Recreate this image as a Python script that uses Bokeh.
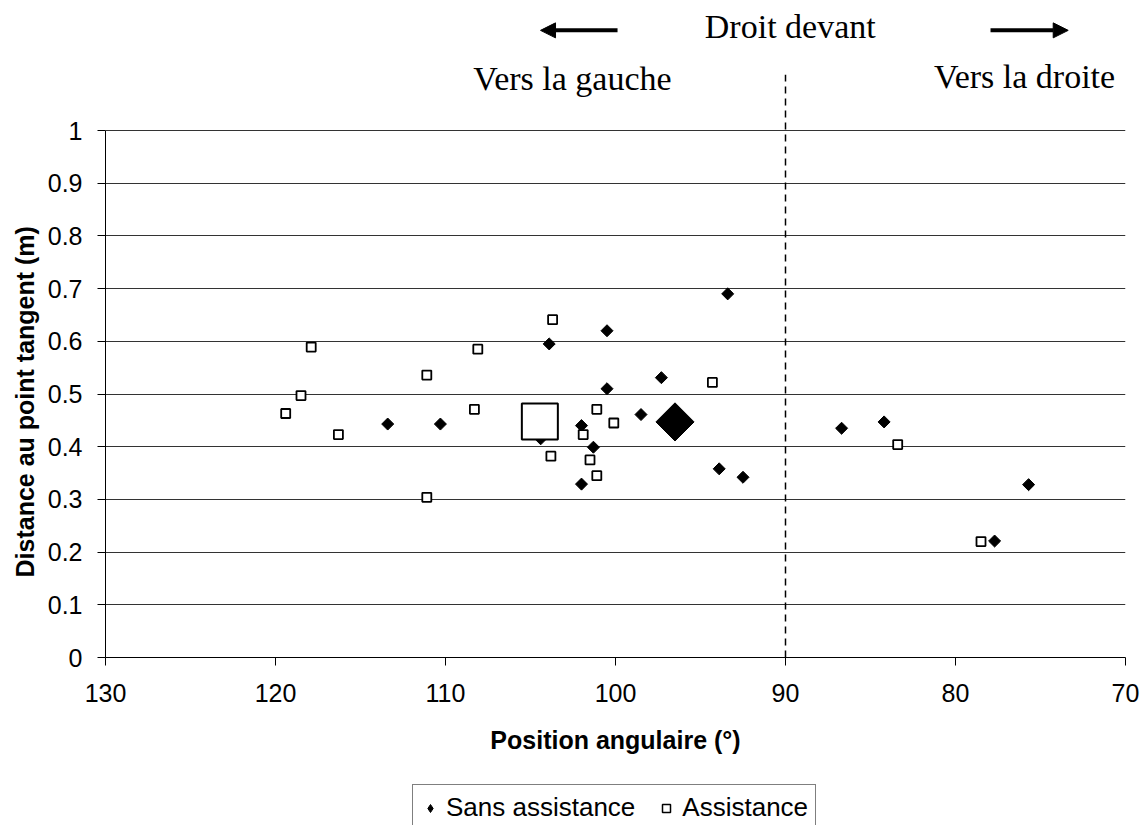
import math
from bokeh.plotting import figure
from bokeh.layouts import column
from bokeh.models import (Range1d, Label, Arrow, NormalHead, Legend, LegendItem,
                          FixedTicker, ColumnDataSource, Title)
from bokeh.embed import file_html
from bokeh.resources import INLINE

# ---- data ----
sans_x = [93.4, 100.5, 103.9, 97.3, 100.5, 98.5, 102.0, 113.4, 110.3, 104.4,
          101.3, 93.9, 92.5, 102.0, 86.7, 84.2, 75.7, 77.7]
sans_y = [0.690, 0.620, 0.595, 0.531, 0.510, 0.461, 0.440, 0.443, 0.443, 0.415,
          0.399, 0.358, 0.342, 0.329, 0.435, 0.447, 0.328, 0.221]
assist_x = [103.7, 117.9, 108.1, 111.1, 118.5, 94.3, 119.4, 108.3, 101.1, 100.1,
            101.9, 116.3, 103.8, 101.5, 101.1, 111.1, 83.4, 78.5]
assist_y = [0.641, 0.589, 0.585, 0.536, 0.497, 0.522, 0.463, 0.471, 0.471, 0.445,
            0.423, 0.423, 0.382, 0.375, 0.345, 0.304, 0.404, 0.220]
sans_mean_x = [96.5]
sans_mean_y = [0.447]
assist_mean_x = [104.45]
assist_mean_y = [0.448]

x_ticks = [130, 120, 110, 100, 90, 80, 70]
y_ticks = [0, 0.1, 0.2, 0.3, 0.4, 0.5, 0.6, 0.7, 0.8, 0.9, 1.0]
y_tick_labels = ["0", "0.1", "0.2", "0.3", "0.4", "0.5", "0.6", "0.7", "0.8", "0.9", "1"]

series_names = ["Sans assistance", "Assistance"]
x_title = "Position angulaire (°)"
y_title = "Distance au point tangent (m)"
top_text = "Droit devant"
left_text = "Vers la gauche"
right_text = "Vers la droite"
straight_angle = 90

SANS = "Liberation Sans"
SERIF = "Liberation Serif"

# frame also covers the header band above y = 1 so the header can be drawn there
FRAME_H = 657
Y_TOP = FRAME_H / 527

p = figure(frame_width=1020, frame_height=FRAME_H, x_range=Range1d(130, 70),
           y_range=Range1d(0, Y_TOP),
           output_backend="svg", toolbar_location=None,
           min_border_left=105, min_border_right=17, min_border_top=0,
           min_border_bottom=120)
p.outline_line_color = None
p.background_fill_color = "white"
p.border_fill_color = "white"

p.xgrid.grid_line_color = None
p.ygrid.ticker = FixedTicker(ticks=y_ticks)
p.ygrid.grid_line_color = "#333333"
p.ygrid.grid_line_width = 1

p.xaxis.ticker = FixedTicker(ticks=x_ticks)
p.yaxis.ticker = FixedTicker(ticks=y_ticks)
p.yaxis.bounds = (0, 1)
p.yaxis.major_label_overrides = {t: l for t, l in zip(y_ticks, y_tick_labels)}
p.xaxis.major_label_overrides = {t: str(t) for t in x_ticks}

for ax in (p.xaxis[0], p.yaxis[0]):
    ax.axis_line_color = "black"
    ax.axis_line_width = 1
    ax.major_tick_line_color = "black"
    ax.major_tick_in = 0
    ax.major_tick_out = 8
    ax.minor_tick_line_color = None
    ax.major_label_text_font = SANS
    ax.major_label_text_font_size = "25px"
    ax.major_label_text_color = "black"
    ax.axis_label_text_font = SANS
    ax.axis_label_text_font_size = "25px"
    ax.axis_label_text_font_style = "bold"
    ax.axis_label_text_color = "black"

p.xaxis.axis_label = x_title
p.xaxis.major_label_standoff = 18
p.xaxis.axis_label_standoff = 21
p.yaxis.major_label_standoff = 15

# y title placed along the 0..1 part of the axis
p.add_layout(Title(text=y_title, align="left", offset=80, standoff=12,
                   text_font=SANS, text_font_size="25px", text_font_style="bold",
                   text_color="black"), "left")

# straight-ahead dashed line
p.add_layout(Arrow(end=None, x_start=straight_angle, y_start=0, x_end=straight_angle,
                   y_end=1.106, line_dash="7 5", line_width=1.5, line_color="black"))

src_s = ColumnDataSource(dict(x=sans_x, y=sans_y))
src_a = ColumnDataSource(dict(x=assist_x, y=assist_y))
p.scatter("x", "y", source=src_s, marker="square", angle=math.pi / 4, size=8.5,
          fill_color="black", line_color="black", line_width=1)
p.scatter("x", "y", source=src_a, marker="square", size=9,
          fill_color="white", line_color="black", line_width=1.8)
p.scatter(sans_mean_x, sans_mean_y, marker="square", angle=math.pi / 4, size=27,
          fill_color="black", line_color="black", line_width=1)
p.scatter(assist_mean_x, assist_mean_y, marker="square", size=36,
          fill_color="white", line_color="black", line_width=2)

# header texts and arrows
p.add_layout(Label(x=89.72, y=1.197, text=top_text, text_align="center",
                   text_baseline="alphabetic", text_font=SERIF, text_font_size="34px",
                   text_color="black"))
p.add_layout(Label(x=102.53, y=1.099, text=left_text, text_align="center",
                   text_baseline="alphabetic", text_font=SERIF, text_font_size="34px",
                   text_color="black"))
p.add_layout(Label(x=75.94, y=1.102, text=right_text, text_align="center",
                   text_baseline="alphabetic", text_font=SERIF, text_font_size="34px",
                   text_color="black"))
p.add_layout(Arrow(end=NormalHead(size=15, fill_color="black", line_color="black"),
                   x_start=99.88, y_start=1.19, x_end=104.41, y_end=1.19,
                   line_width=4, line_color="black"))
p.add_layout(Arrow(end=NormalHead(size=15, fill_color="black", line_color="black"),
                   x_start=77.94, y_start=1.19, x_end=73.37, y_end=1.19,
                   line_width=4, line_color="black"))

# ---- legend strip below the chart ----
lg = figure(width=1142, height=48, x_range=Range1d(0, 1), y_range=Range1d(0, 1),
            x_axis_type=None, y_axis_type=None, output_backend="svg",
            toolbar_location=None, min_border=0)
lg.outline_line_color = None
lg.grid.visible = False
# swatch renderers (their single point lies outside the visible range)
r_leg_s = lg.scatter(x=[5], y=[5], marker="diamond", fill_color="black", line_color="black")
r_leg_a = lg.scatter(x=[5], y=[5], marker="square", fill_color="white", line_color="black",
                     line_width=1.5)
legend = Legend(items=[LegendItem(label=series_names[0], renderers=[r_leg_s]),
                       LegendItem(label=series_names[1], renderers=[r_leg_a])],
                orientation="horizontal", location=(307, -6),
                border_line_color="black", border_line_width=1,
                padding=7, spacing=21, label_standoff=6,
                glyph_width=20, glyph_height=20,
                label_text_font=SANS, label_text_font_size="26px",
                label_text_color="black", margin=0)
lg.add_layout(legend, "center")

layout = column(p, lg, spacing=0)
open("out.html", "w").write(file_html(layout, INLINE))
